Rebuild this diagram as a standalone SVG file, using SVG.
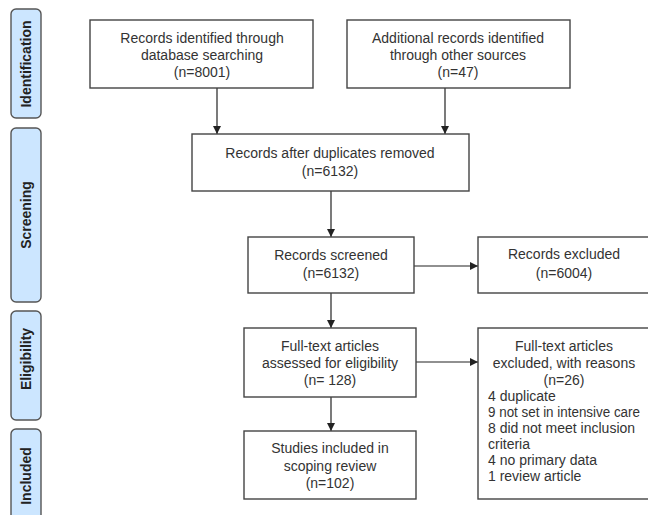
<svg xmlns="http://www.w3.org/2000/svg" width="648" height="515" viewBox="0 0 648 515">
<defs>
<marker id="ah" markerWidth="9" markerHeight="9" refX="8" refY="4.5" orient="auto" markerUnits="userSpaceOnUse">
<path d="M0,0.5 L8,4.5 L0,8.5 Z" fill="#222"/>
</marker>
<style>
.box{fill:#fff;stroke:#444;stroke-width:1.4}
.phase{fill:#cce6ff;stroke:#555;stroke-width:1.4}
.t{font-family:"Liberation Sans",Arial,sans-serif;font-size:14px;fill:#333;text-anchor:middle}
.l{font-family:"Liberation Sans",Arial,sans-serif;font-size:14px;fill:#333}
.p{font-family:"Liberation Sans",Arial,sans-serif;font-size:14px;font-weight:bold;fill:#222;text-anchor:middle}
.c{stroke:#222;stroke-width:1.2;fill:none;marker-end:url(#ah)}
</style>
</defs>
<rect width="648" height="515" fill="#fff"/>
<g id="phase-identification">
<rect class="phase" x="11" y="9" width="30" height="109" rx="5"/>
<text class="p" transform="translate(26,64) rotate(-90)" y="5">Identification</text>
</g>
<g id="phase-screening">
<rect class="phase" x="11" y="128" width="30" height="174" rx="5"/>
<text class="p" transform="translate(26,215) rotate(-90)" y="5">Screening</text>
</g>
<g id="phase-eligibility">
<rect class="phase" x="11" y="311" width="30" height="109" rx="5"/>
<text class="p" transform="translate(26,359) rotate(-90)" y="5">Eligibility</text>
</g>
<g id="phase-included">
<rect class="phase" x="11" y="429" width="30" height="100" rx="5"/>
<text class="p" transform="translate(26,476) rotate(-90)" y="5">Included</text>
</g>
<g id="connectors">
<line class="c" x1="217" y1="88" x2="217" y2="134"/>
<line class="c" x1="445" y1="88" x2="445" y2="134"/>
<line class="c" x1="331" y1="191" x2="331" y2="237"/>
<line class="c" x1="414" y1="266" x2="478" y2="266"/>
<line class="c" x1="331" y1="293" x2="331" y2="328"/>
<line class="c" x1="416" y1="362" x2="478" y2="362"/>
<line class="c" x1="331" y1="397" x2="331" y2="431"/>
</g>
<g id="db-records">
<rect class="box" x="90" y="20" width="223" height="68"/>
<text class="t" x="202" y="43">Records identified through</text>
<text class="t" x="202" y="60">database searching</text>
<text class="t" x="202" y="77">(n=8001)</text>
</g>
<g id="other-records">
<rect class="box" x="347" y="20" width="223" height="68"/>
<text class="t" x="458" y="43">Additional  records identified</text>
<text class="t" x="458" y="60">through other sources</text>
<text class="t" x="458" y="77">(n=47)</text>
</g>
<g id="dedup">
<rect class="box" x="192" y="134" width="277" height="57"/>
<text class="t" x="330" y="158">Records after duplicates removed</text>
<text class="t" x="330" y="176">(n=6132)</text>
</g>
<g id="screened">
<rect class="box" x="248" y="237" width="166" height="56"/>
<text class="t" x="331" y="260">Records screened</text>
<text class="t" x="331" y="278">(n=6132)</text>
</g>
<g id="excluded">
<rect class="box" x="478" y="237" width="180" height="56"/>
<text class="t" x="564" y="259">Records excluded</text>
<text class="t" x="564" y="278">(n=6004)</text>
</g>
<g id="fulltext">
<rect class="box" x="244" y="328" width="172" height="69"/>
<text class="t" x="330" y="351">Full-text articles</text>
<text class="t" x="330" y="368">assessed for eligibility</text>
<text class="t" x="330" y="385">(n= 128)</text>
</g>
<g id="fulltext-excluded">
<rect class="box" x="478" y="328" width="180" height="171"/>
<text class="t" x="564" y="351">Full-text articles</text>
<text class="t" x="564" y="368">excluded, with reasons</text>
<text class="t" x="564" y="385">(n=26)</text>
<text class="l" x="488" y="401">4 duplicate</text>
<text class="l" x="488" y="417" textLength="152" lengthAdjust="spacingAndGlyphs">9 not set in intensive care</text>
<text class="l" x="488" y="433">8 did not meet inclusion</text>
<text class="l" x="488" y="449">criteria</text>
<text class="l" x="488" y="465">4 no primary data</text>
<text class="l" x="488" y="481">1 review article</text>
</g>
<g id="included">
<rect class="box" x="244" y="431" width="172" height="68"/>
<text class="t" x="330" y="453">Studies included in</text>
<text class="t" x="330" y="471">scoping review</text>
<text class="t" x="330" y="488">(n=102)</text>
</g>
</svg>
